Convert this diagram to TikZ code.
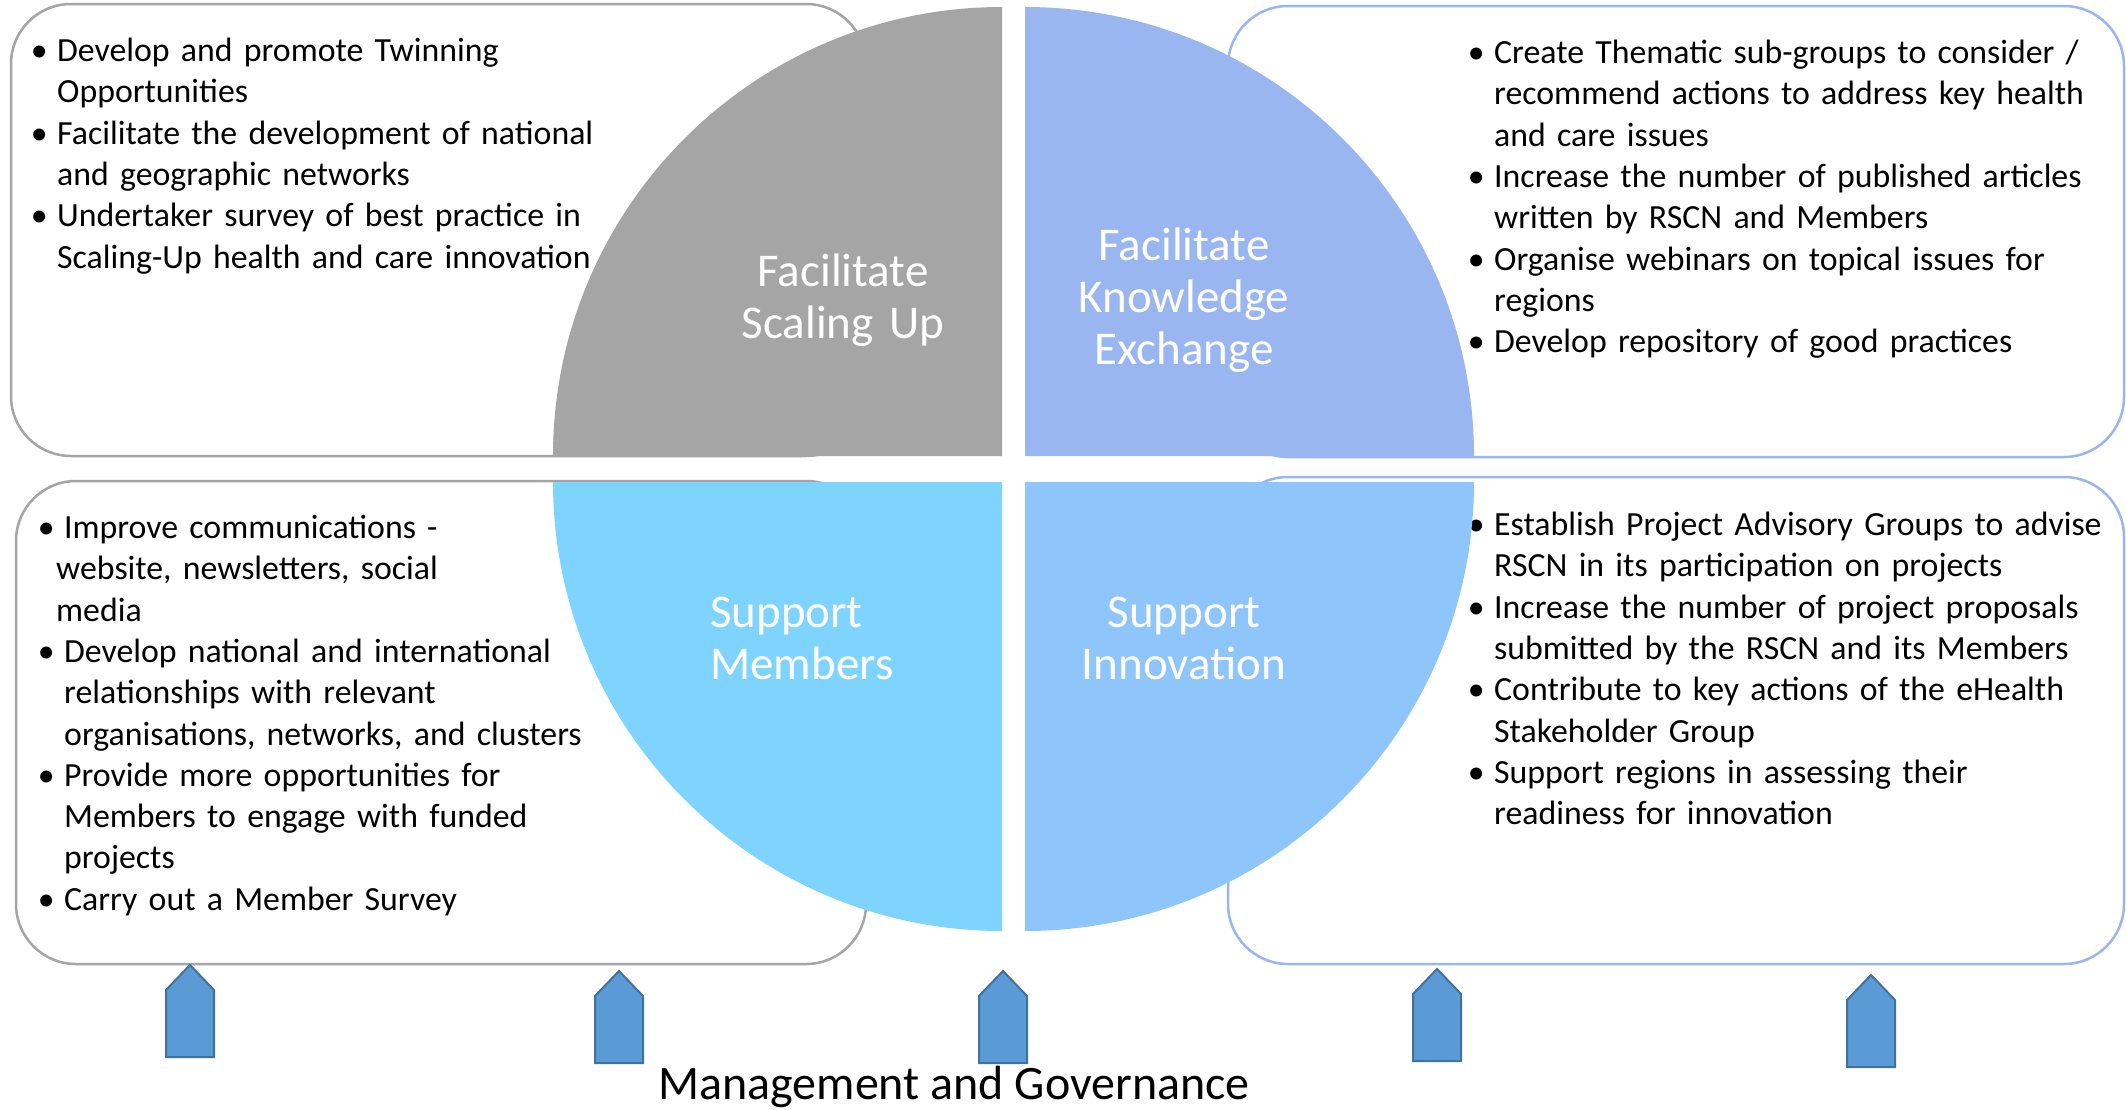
\documentclass[tikz,border=0pt]{standalone}
\usepackage{fontspec}
\setmainfont{Carlito}
\usetikzlibrary{calc}

\definecolor{scalegrey}{HTML}{A5A5A5}
\definecolor{knowblue}{HTML}{9AB6F0}
\definecolor{memblue}{HTML}{7FD4FF}
\definecolor{innoblue}{HTML}{8EC5FB}
\definecolor{arrowfill}{HTML}{5B9BD5}
\definecolor{arrowline}{HTML}{41719C}

\newlength{\bulw}
\setlength{\bulw}{36pt}
% one bullet point, #1 = indent of the wrapped lines
\newcommand{\bpt}[2][\bulw]{\par\noindent\hangindent=#1\hangafter=1\makebox[\bulw][c]{\textbullet}\strut#2\par}
\newcommand{\nl}{\newline}

\begin{document}
\begin{tikzpicture}[
  x=1pt, y=-1pt,
  panel/.style = {line width=2.5pt, rounded corners=60pt},
  listtext/.style = {anchor=north west, inner sep=0pt, text width=720pt, align=left,
                     font=\fontsize{33.8}{41.3}\selectfont},
  qtitle/.style = {inner sep=0pt, text width=420pt, text=white,
                   font=\fontsize{47}{52}\selectfont},
  govarrow/.style = {fill=arrowfill, draw=arrowline, line width=2pt, line join=miter}
]

% Page
\fill[white] (0,0) rectangle (2126,1109);
\useasboundingbox (0,0) rectangle (2126,1109);

% Parameters
\def\R{449}

% Corners of the four quarters
\coordinate (cTL) at (1002,456);
\coordinate (cTR) at (1025,456);
\coordinate (cBL) at (1002,482);
\coordinate (cBR) at (1025,482);

% Rounded panels behind the circle
\draw[panel, draw=scalegrey] (11,4) rectangle (866,456);
\draw[panel, draw=scalegrey] (16,481) rectangle (866,964);
\draw[panel, draw=knowblue] (1228,6) rectangle (2124,457);
\draw[panel, draw=knowblue] (1228,477) rectangle (2124,964);

% Bullet lists
\node[listtext] (scalelist) at (21,20) {%
  \bpt{Develop and promote Twinning\nl Opportunities}
  \bpt{Facilitate the development of national\nl and geographic networks}
  \bpt{Undertaker survey of best practice in\nl Scaling-Up health and care innovation}};

\node[listtext] (knowlist) at (1458,22) {%
  \bpt{Create Thematic sub-groups to consider /\nl recommend actions to address key health\nl and care issues}
  \bpt{Increase the number of published articles\nl written by RSCN and Members}
  \bpt{Organise webinars on topical issues for\nl regions}
  \bpt{Develop repository of good practices}};

\node[listtext] (memlist) at (28,497) {%
  \bpt[28pt]{Improve communications -\nl website, newsletters, social\nl media}
  \bpt{Develop national and international\nl relationships with relevant\nl organisations, networks, and clusters}
  \bpt{Provide more opportunities for\nl Members to engage with funded\nl projects}
  \bpt{Carry out a Member Survey}};

\node[listtext] (innolist) at (1458,494) {%
  \bpt{Establish Project Advisory Groups to advise\nl RSCN in its participation on projects}
  \bpt{Increase the number of project proposals\nl submitted by the RSCN and its Members}
  \bpt{Contribute to key actions of the eHealth\nl Stakeholder Group}
  \bpt{Support regions in assessing their\nl readiness for innovation}};

% Quarters of the circle
\fill[scalegrey] (cTL) -- ++(-\R,0) arc[start angle=180, end angle=270, radius=\R] -- cycle;
\fill[knowblue] (cTR) -- ++(0,-\R) arc[start angle=270, end angle=360, radius=\R] -- cycle;
\fill[memblue] (cBL) -- ++(0,\R) arc[start angle=90, end angle=180, radius=\R] -- cycle;
\fill[innoblue] (cBR) -- ++(\R,0) arc[start angle=0, end angle=90, radius=\R] -- cycle;

% Titles
\node[qtitle, anchor=north, align=center] (scaling) at (843,250) {\strut Facilitate\\Scaling Up};
\node[qtitle, anchor=north, align=center] (knowledge) at (1184,224) {\strut Facilitate\\Knowledge\\Exchange};
\node[qtitle, anchor=north west, align=left] (members) at (710,591) {\strut Support\\Members};
\node[qtitle, anchor=north, align=center] (innovation) at (1184,591) {\strut Support\\Innovation};

% Block arrows underneath
\draw[govarrow] (166,1057) -- ++(0,-67) -- ++(24,-25) -- ++(24,25) -- ++(0,67) -- cycle;
\draw[govarrow] (595,1063) -- ++(0,-67) -- ++(24,-25) -- ++(24,25) -- ++(0,67) -- cycle;
\draw[govarrow] (979,1063) -- ++(0,-67) -- ++(24,-25) -- ++(24,25) -- ++(0,67) -- cycle;
\draw[govarrow] (1413,1061) -- ++(0,-67) -- ++(24,-25) -- ++(24,25) -- ++(0,67) -- cycle;
\draw[govarrow] (1847,1067) -- ++(0,-67) -- ++(24,-25) -- ++(24,25) -- ++(0,67) -- cycle;

\node[anchor=base, inner sep=0pt, font=\fontsize{48}{52}\selectfont] (govern) at (954,1099) {Management and Governance};

\end{tikzpicture}
\end{document}
